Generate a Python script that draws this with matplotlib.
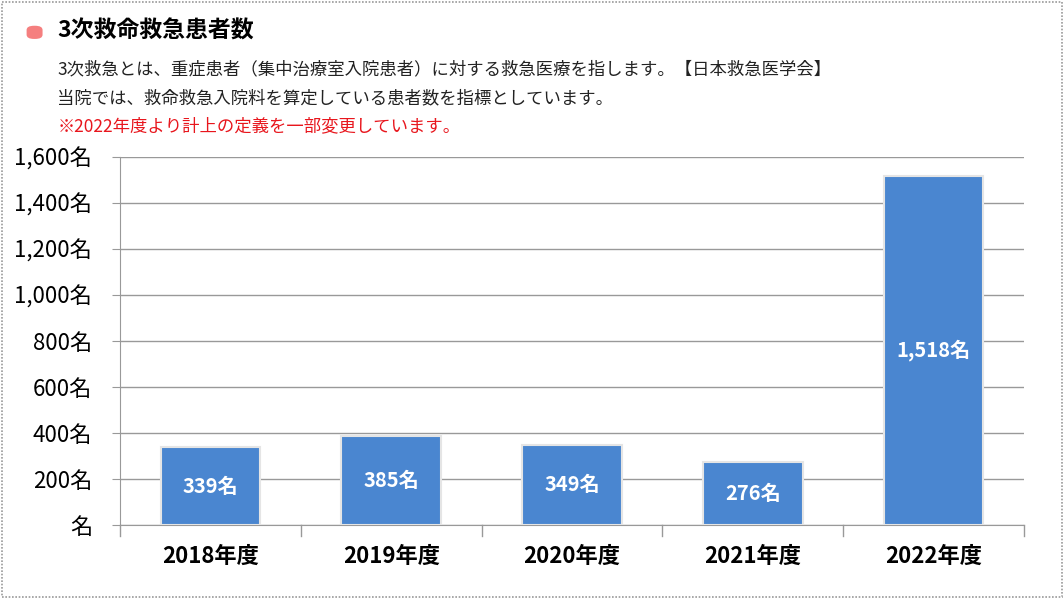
import matplotlib
matplotlib.use("Agg")
import matplotlib.pyplot as plt
from matplotlib.patches import Rectangle, FancyBboxPatch

categories = ["2018年度", "2019年度", "2020年度", "2021年度", "2022年度"]
values = [339, 385, 349, 276, 1518]
yticks = [0, 200, 400, 600, 800, 1000, 1200, 1400, 1600]
ytick_labels = ["名", "200名", "400名", "600名", "800名", "1,000名", "1,200名", "1,400名", "1,600名"]

plt.rcParams["font.family"] = "Noto Sans CJK JP"
fig = plt.figure(figsize=(10.64, 5.99), dpi=100)
fig.patches.append(Rectangle((0.002, 0.003), 0.996, 0.994, transform=fig.transFigure,
                             fill=False, ec="#999999", lw=1.2, ls=(0, (1, 1))))
fig.patches.append(FancyBboxPatch((0.025, 0.935), 0.015, 0.022, boxstyle="round,pad=0,rounding_size=0.007",
                                  transform=fig.transFigure, fc="#f57f7f", ec="none"))
fig.text(0.054, 0.948, "3次救命救急患者数", fontsize=16.5, fontweight="bold", va="center")
fig.text(0.054, 0.885, "3次救急とは、重症患者（集中治療室入院患者）に対する救急医療を指します。【日本救急医学会】", fontsize=12.5, va="center", color="#222222")
fig.text(0.054, 0.836, "当院では、救命救急入院料を算定している患者数を指標としています。", fontsize=12.5, va="center", color="#222222")
fig.text(0.054, 0.789, "※2022年度より計上の定義を一部変更しています。", fontsize=12.5, va="center", color="#e8161d")

ax = fig.add_axes([0.1128, 0.1235, 0.8496, 0.6144])
x = range(len(categories))
ax.bar(x, values, width=0.55, color="#4a86d0", edgecolor="#e5e5e5", linewidth=1.5, zorder=3)
for xi, v in zip(x, values):
    ax.text(xi, v / 2, f"{v:,}名", ha="center", va="center", color="white", fontsize=14.5, fontweight="bold", zorder=4)
ax.set_ylim(0, 1600)
ax.set_xlim(-0.5, 4.5)
ax.set_yticks(yticks)
ax.set_yticklabels(ytick_labels, fontsize=16)
ax.set_xticks(list(x))
ax.set_xticklabels(categories, fontsize=16, fontweight="bold")
ax.yaxis.grid(True, color="#999999", lw=1, zorder=0)
for s in ["top", "right"]:
    ax.spines[s].set_visible(False)
ax.spines["left"].set_color("#999999")
ax.spines["bottom"].set_color("#999999")
ax.tick_params(axis="y", length=6, color="#999999", pad=14)
ax.tick_params(axis="x", length=0, pad=14)
for b in [-0.5, 0.5, 1.5, 2.5, 3.5, 4.5]:
    ax.plot([b, b], [0, -0.03], transform=ax.get_xaxis_transform(), color="#999999", lw=1, clip_on=False)
fig.savefig("out.png", dpi=100)
